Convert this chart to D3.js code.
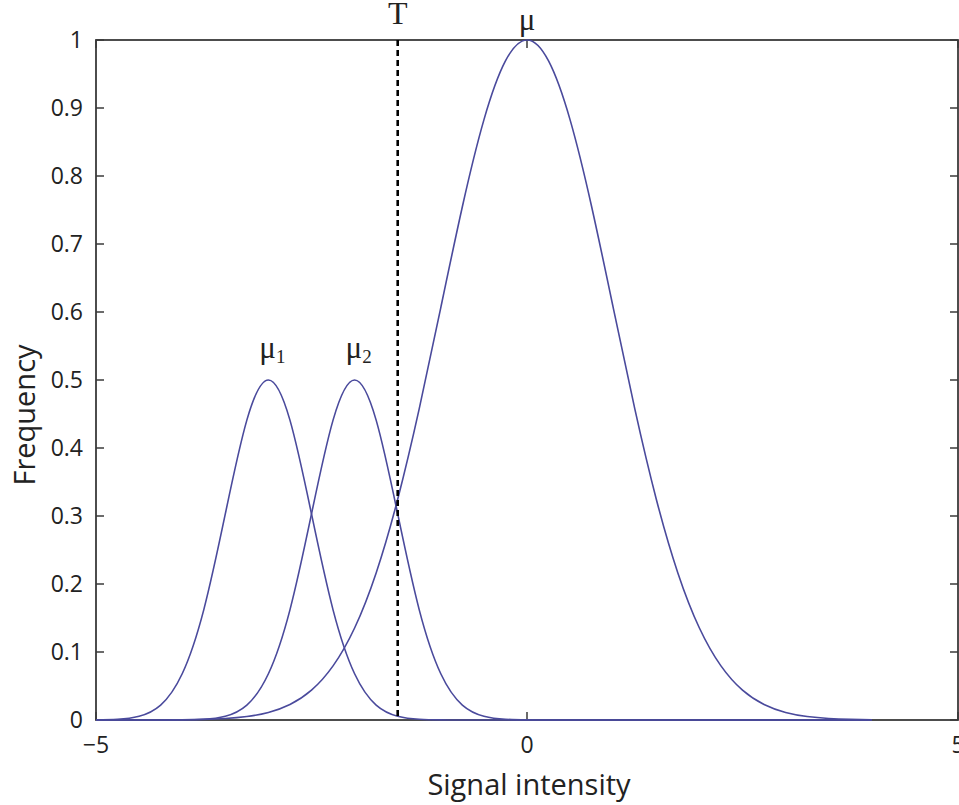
<!DOCTYPE html>
<html lang="en">
<head>
    <meta charset="UTF-8">
    <title>Signal intensity distributions</title>
    <script src="https://d3js.org/d3.v7.min.js"></script>
    <style>
        body { margin: 0; background: #fff; }
        .tick-label { font-family: "Open Sans", sans-serif; font-size: 23px; fill: #222; }
        .axis-title { font-family: "Open Sans", sans-serif; font-size: 29px; fill: #222; }
        .greek { font-family: "Liberation Serif", "DejaVu Serif", serif; fill: #222; }
    </style>
</head>
<body>
<svg id="chart" width="959" height="805"></svg>
<script>
    // sample positions along signal intensity
    const xs = [-5, -4.75, -4.5, -4.25, -4, -3.75, -3.5, -3.25, -3, -2.75, -2.5, -2.25, -2, -1.75, -1.5, -1.25,
        -1, -0.75, -0.5, -0.25, 0, 0.25, 0.5, 0.75, 1, 1.25, 1.5, 1.75, 2, 2.25, 2.5, 2.75, 3, 3.25, 3.5, 3.75, 4];

    // frequency for each curve
    const mu1Values = [0.0002, 0.0011, 0.0056, 0.022, 0.068, 0.162, 0.303, 0.441, 0.5, 0.441, 0.303, 0.162, 0.068,
        0.022, 0.0056, 0.0011, 0.0002, 0, 0, 0, 0, 0, 0, 0, 0, 0, 0, 0, 0, 0, 0, 0, 0, 0, 0, 0, 0];
    const mu2Values = [0, 0, 0, 0, 0.0002, 0.0011, 0.0056, 0.022, 0.068, 0.162, 0.303, 0.441, 0.5, 0.441, 0.303,
        0.162, 0.068, 0.022, 0.0056, 0.0011, 0.0002, 0, 0, 0, 0, 0, 0, 0, 0, 0, 0, 0, 0, 0, 0, 0, 0];
    const muValues = [0, 0.00001, 0.00004, 0.0001, 0.0003, 0.0009, 0.0022, 0.0051, 0.0111, 0.0228, 0.0439, 0.0796,
        0.1353, 0.2163, 0.3247, 0.4578, 0.6065, 0.7548, 0.8825, 0.9692, 1, 0.9692, 0.8825, 0.7548, 0.6065, 0.4578,
        0.3247, 0.2163, 0.1353, 0.0796, 0.0439, 0.0228, 0.0111, 0.0051, 0.0022, 0.0009, 0.0003];

    const threshold = -1.5;
    const xTicks = [-5, 0, 5];
    const yTicks = [0, 0.1, 0.2, 0.3, 0.4, 0.5, 0.6, 0.7, 0.8, 0.9, 1];
    const peakLabels = [
        {name: "\u03bc", sub: "1", x: -3, y: 0.5},
        {name: "\u03bc", sub: "2", x: -2, y: 0.5},
        {name: "\u03bc", sub: "", x: 0, y: 1}
    ];

    const margin = {top: 40, right: 1, bottom: 85, left: 96},
        width = 959 - margin.left - margin.right,
        height = 805 - margin.top - margin.bottom;

    const x = d3.scaleLinear().domain([-5, 5]).range([0, width]);
    const y = d3.scaleLinear().domain([0, 1]).range([height, 0]);

    const svg = d3.select("#chart")
        .append("g")
        .attr("transform", "translate(" + margin.left + "," + margin.top + ")");

    const axisColor = "#3a3a3a";
    const tickLen = 8;

    // inward ticks on all four sides, labels only left and bottom
    svg.selectAll(".ytick")
        .data(yTicks)
        .join("g")
        .each(function (d) {
            const g = d3.select(this);
            g.append("line").attr("x1", 0).attr("x2", tickLen).attr("y1", y(d)).attr("y2", y(d))
                .attr("stroke", axisColor).attr("stroke-width", 1.5);
            g.append("line").attr("x1", width - tickLen).attr("x2", width).attr("y1", y(d)).attr("y2", y(d))
                .attr("stroke", axisColor).attr("stroke-width", 1.5);
            g.append("text").attr("class", "tick-label")
                .attr("x", -13).attr("y", y(d) + 8)
                .attr("text-anchor", "end")
                .text(d3.format("~g")(d));
        });

    svg.selectAll(".xtick")
        .data(xTicks)
        .join("g")
        .each(function (d) {
            const g = d3.select(this);
            g.append("line").attr("x1", x(d)).attr("x2", x(d)).attr("y1", height).attr("y2", height - tickLen)
                .attr("stroke", axisColor).attr("stroke-width", 1.5);
            g.append("line").attr("x1", x(d)).attr("x2", x(d)).attr("y1", 0).attr("y2", tickLen)
                .attr("stroke", axisColor).attr("stroke-width", 1.5);
            g.append("text").attr("class", "tick-label")
                .attr("x", x(d)).attr("y", height + 33)
                .attr("text-anchor", "middle")
                .text(d < 0 ? "\u2212" + Math.abs(d) : d);
        });

    // box
    svg.append("rect")
        .attr("x", 0).attr("y", 0).attr("width", width).attr("height", height)
        .attr("fill", "none").attr("stroke", axisColor).attr("stroke-width", 1.8);

    const line = d3.line()
        .x((d, i) => x(xs[i]))
        .y(d => y(d))
        .curve(d3.curveNatural);

    [mu1Values, mu2Values, muValues].forEach(vals => {
        svg.append("path")
            .datum(vals)
            .attr("d", line)
            .attr("fill", "none")
            .attr("stroke", "#4a4a9c")
            .attr("stroke-width", 1.6);
    });

    // threshold line
    svg.append("line")
        .attr("x1", x(threshold)).attr("x2", x(threshold))
        .attr("y1", 0).attr("y2", height)
        .attr("stroke", "#000")
        .attr("stroke-width", 2.6)
        .attr("stroke-dasharray", "6,4");

    svg.append("text").attr("class", "greek")
        .attr("x", x(threshold)).attr("y", -16)
        .attr("text-anchor", "middle")
        .style("font-size", "32px")
        .text("T");

    peakLabels.forEach(p => {
        const t = svg.append("text").attr("class", "greek")
            .attr("x", x(p.x) + (p.sub ? 4 : 0)).attr("y", y(p.y) - (p.sub ? 22 : 10))
            .attr("text-anchor", "middle")
            .style("font-size", "31px");
        t.append("tspan").text(p.name);
        if (p.sub) {
            t.append("tspan").attr("dy", 5).style("font-size", "19px").text(p.sub);
        }
    });

    // axis titles
    svg.append("text").attr("class", "axis-title")
        .attr("x", x(0) + 2).attr("y", height + 75)
        .attr("text-anchor", "middle")
        .text("Signal intensity");

    svg.append("text").attr("class", "axis-title")
        .attr("transform", "translate(" + (-61) + "," + (height / 2 + 35) + ") rotate(-90)")
        .attr("text-anchor", "middle")
        .text("Frequency");
</script>
</body>
</html>
